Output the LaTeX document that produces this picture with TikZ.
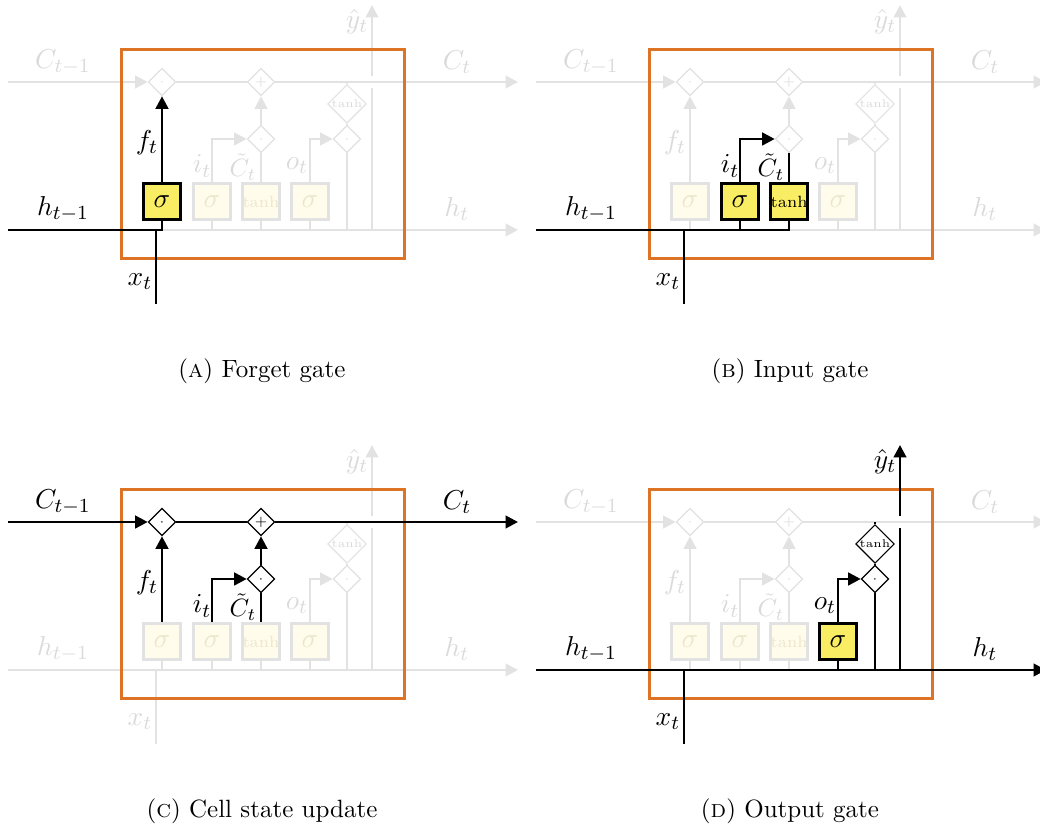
\documentclass[tikz,border=0pt]{standalone}
\usetikzlibrary{arrows.meta}
\usetikzlibrary{shapes.geometric}

\definecolor{cellorange}{RGB}{221,115,37}
\definecolor{wiregrey}{RGB}{226,226,226}
\definecolor{fadetext}{RGB}{218,218,218}
\definecolor{fadetan}{RGB}{236,230,205}
\definecolor{paleyellow}{RGB}{255,252,235}
\definecolor{gateyellow}{RGB}{249,237,100}

\tikzset{
  wire/.style={line width=1.1pt, draw=wiregrey},
  live/.style={line width=1.1pt, draw=black},
  gatebox/.style={rectangle, minimum width=14.8pt, minimum height=14.4pt, inner sep=0pt,
    line width=1.2pt, font={\fontsize{11}{13}\selectfont}},
  gateoff/.style={gatebox, draw=wiregrey, fill=paleyellow, text=fadetan},
  gateon/.style={draw=black, fill=gateyellow, text=black},
  tanhtext/.style={font={\fontsize{6.5}{7}\selectfont}},
  op/.style={diamond, inner sep=0pt, minimum width=11pt, minimum height=11pt, fill=white,
    line width=0.45pt, font={\fontsize{5}{6}\selectfont}, draw=wiregrey, text=fadetext},
  opwide/.style={op, minimum width=15pt, font={\fontsize{4.5}{5}\selectfont}},
  opon/.style={draw=black, text=black},
  lbl/.style={font={\fontsize{11}{13}\selectfont}, text=fadetext, inner sep=0pt},
  lblon/.style={text=black},
  cellbox/.style={draw=cellorange, line width=1.2pt},
  caption/.style={anchor=base, font=\normalsize},
  % what each panel lights up
  fgate/.style={}, igate/.style={}, cgate/.style={}, ogate/.style={},
  fmul/.style={}, cadd/.style={}, imul/.style={}, omul/.style={}, otanh/.style={},
  cinlbl/.style={}, coutlbl/.style={}, hinlbl/.style={}, houtlbl/.style={},
  xlbl/.style={}, flbl/.style={}, ilbl/.style={}, clbl/.style={}, olbl/.style={},
  ylbl/.style={}
}

% the whole cell, faded unless a panel switches a part on
\newcommand{\lstmbase}{%
  \coordinate (cin) at (8,82);
  \coordinate (cout) at (518,82);
  \coordinate (hin) at (8,230);
  \coordinate (hout) at (518,230);
  \coordinate (xin) at (156,304);
  \coordinate (xj) at (156,230);
  \coordinate (thc) at (347,82);
  \coordinate (moh) at (347,230);
  \coordinate (yh) at (372,230);
  \coordinate (ylo) at (372,88);
  \coordinate (yhi) at (372,76);
  \coordinate (ytop) at (372,5);
  \node[gateoff, fgate] (fg) at (162,202) {$\sigma$};
  \node[gateoff, igate] (ig) at (212,202) {$\sigma$};
  \node[gateoff, tanhtext, cgate] (cg) at (261,202) {tanh};
  \node[gateoff, ogate] (og) at (310,202) {$\sigma$};
  \node[op, fmul] (mf) at (162,82) {$\cdot$};
  \node[op, cadd] (pl) at (261,82) {$+$};
  \node[op, imul] (mi) at (261,139) {$\cdot$};
  \node[opwide, otanh] (th) at (347,104) {tanh};
  \node[op, omul] (mo) at (347,139) {$\cdot$};
  \draw[wire,->] (cin) -- (mf.west);
  \draw[wire] (mf.east) -- (pl.west);
  \draw[wire,->] (pl.east) -- (cout);
  \draw[wire,->] (hin) -- (hout);
  \draw[wire] (xin) -- (xj);
  \foreach \g in {fg,ig,cg,og}
    \draw[wire] (\g.south) -- (\g.south |- hin);
  \draw[wire,->] (fg.north) -- (mf.south);
  \draw[wire,->] (ig.north) |- (mi.west);
  \draw[wire] (cg.north) -- (mi.south);
  \draw[wire,->] (mi.north) -- (pl.south);
  \draw[wire,->] (og.north) |- (mo.west);
  \draw[wire] (moh) -- (mo.south);
  \draw[wire] (mo.north) -- (th.south);
  \draw[wire] (th.north) -- (thc);
  \draw[wire] (yh) -- (ylo);
  \draw[wire,->] (yhi) -- (ytop);
  \node[lbl, cinlbl] (lcin) at (63,62) {$C_{t-1}$};
  \node[lbl, coutlbl] (lcout) at (457,62) {$C_t$};
  \node[lbl, hinlbl] (lhin) at (63,209) {$h_{t-1}$};
  \node[lbl, houtlbl] (lhout) at (457,209) {$h_t$};
  \node[lbl, xlbl] (lx) at (140,282) {$x_t$};
  \node[lbl, flbl] (lf) at (147,143) {$f_t$};
  \node[lbl, ilbl] (li) at (202,166) {$i_t$};
  \node[lbl, clbl, font={\fontsize{10}{12}\selectfont}] (lc) at (243,167) {$\tilde{C}_t$};
  \node[lbl, olbl] (lo) at (297,166) {$o_t$};
  \node[lbl, ylbl] (ly) at (357,22) {$\hat{y}_t$};
  \draw[cellbox] (121,50) rectangle (404,259);
}

\begin{document}
\begin{tikzpicture}[x=0.4pt, y=-0.4pt, >={Triangle[length=5pt,width=5pt]}]
\useasboundingbox (0,0) rectangle (1040,830);

% (a) forget gate
\begin{scope}[name prefix=a-, fgate/.style=gateon,
    hinlbl/.style=lblon, xlbl/.style=lblon, flbl/.style=lblon]
  \lstmbase
  \draw[live] (hin) -- (fg.south |- hin) -- (fg.south);
  \draw[live] (xin) -- (xj);
  \draw[live,->] (fg.north) -- (mf.south);
  \node[caption] (capa) at (262,378) {(\textsc{a}) Forget gate};
\end{scope}

% (b) input gate
\begin{scope}[shift={(528,0)}, name prefix=b-, igate/.style=gateon, cgate/.style=gateon,
    hinlbl/.style=lblon, xlbl/.style=lblon, ilbl/.style=lblon, clbl/.style=lblon]
  \lstmbase
  \draw[live] (hin) -- (cg.south |- hin) -- (cg.south);
  \draw[live] (ig.south) -- (ig.south |- hin);
  \draw[live] (xin) -- (xj);
  \draw[live,->] (ig.north) |- (mi.west);
  \draw[live] (cg.north) -- (mi.south);
  \node[caption] (capb) at (262,378) {(\textsc{b}) Input gate};
\end{scope}

% (c) cell state update
\begin{scope}[shift={(0,440)}, name prefix=c-,
    fmul/.style=opon, cadd/.style=opon, imul/.style=opon,
    cinlbl/.style=lblon, coutlbl/.style=lblon, flbl/.style=lblon,
    ilbl/.style=lblon, clbl/.style=lblon]
  \lstmbase
  \draw[live,->] (cin) -- (mf.west);
  \draw[live] (mf.east) -- (pl.west);
  \draw[live,->] (pl.east) -- (cout);
  \draw[live,->] (fg.north) -- (mf.south);
  \draw[live,->] (ig.north) |- (mi.west);
  \draw[live] (cg.north) -- (mi.south);
  \draw[live,->] (mi.north) -- (pl.south);
  \node[caption] (capc) at (262,378) {(\textsc{c}) Cell state update};
\end{scope}

% (d) output gate
\begin{scope}[shift={(528,440)}, name prefix=d-, ogate/.style=gateon,
    omul/.style=opon, otanh/.style=opon,
    hinlbl/.style=lblon, houtlbl/.style=lblon, xlbl/.style=lblon,
    olbl/.style=lblon, ylbl/.style=lblon]
  \lstmbase
  \draw[live,->] (hin) -- (hout);
  \draw[live] (xin) -- (xj);
  \draw[live] (og.south) -- (og.south |- hin);
  \draw[live,->] (og.north) |- (mo.west);
  \draw[live] (moh) -- (mo.south);
  \draw[live] (mo.north) -- (th.south);
  \draw[live] (th.north) -- (thc);
  \draw[live] (yh) -- (ylo);
  \draw[live,->] (yhi) -- (ytop);
  \node[caption] (capd) at (262,378) {(\textsc{d}) Output gate};
\end{scope}
\end{tikzpicture}
\end{document}
